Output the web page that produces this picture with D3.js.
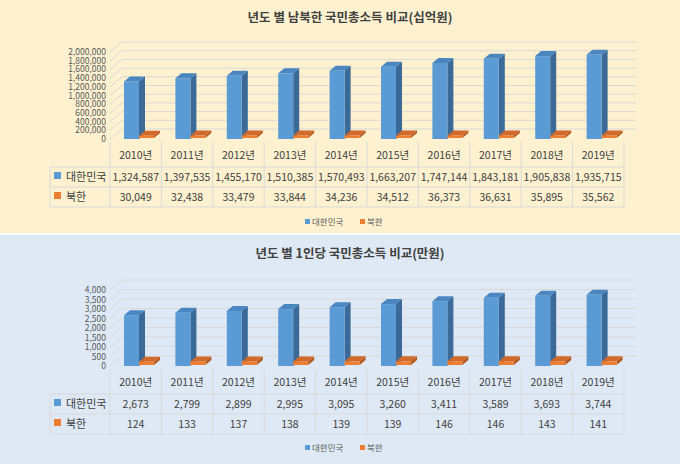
<!DOCTYPE html>
<html><head><meta charset="utf-8">
<script src="https://cdn.jsdelivr.net/npm/d3@7"></script>
<style>body{margin:0;font-family:"Noto Sans CJK KR","Noto Sans",sans-serif;}svg text{font-family:"Noto Sans CJK KR","Noto Sans",sans-serif;}</style>
</head><body><svg id="c" width="680" height="464"></svg>
<script>
var years = ['2010년','2011년','2012년','2013년','2014년','2015년','2016년','2017년','2018년','2019년'];
var seriesNames = ['대한민국','북한'];
var gniSouth = [1324587,1397535,1455170,1510385,1570493,1663207,1747144,1843181,1905838,1935715];
var gniNorth = [30049,32438,33479,33844,34236,34512,36373,36631,35895,35562];
var perSouth = [2673,2799,2899,2995,3095,3260,3411,3589,3693,3744];
var perNorth = [124,133,137,138,139,139,146,146,143,141];
var ticksTop = d3.range(0, 2000001, 200000);
var ticksBot = d3.range(0, 4001, 500);

var svg = d3.select('#c');
var colors = {front:['#5b9bd5','#ed7d31'], side:['#3b6a98','#b35a1f'], top:['#4a86c0','#d0692a']};

function panel(o) {
  var g = svg.append('g').attr('transform', 'translate(0,' + o.y0 + ')');
  g.append('rect').attr('width', 680).attr('height', o.h).attr('fill', o.bg);
  g.append('text').attr('x', 350).attr('y', o.titleY).attr('text-anchor', 'middle')
    .attr('font-size', 12.5).attr('font-weight', 'bold').attr('fill', '#404040').text(o.title);

  var x = d3.scaleBand().domain(years).range([110, 624]);
  var y = d3.scaleLinear().domain([0, o.max]).range([o.base, o.top]);
  var wx = 12, wy = -10;

  o.ticks.forEach(function(t) {
    g.append('path').attr('fill', 'none').attr('stroke', '#d9d9d9')
      .attr('d', 'M' + 110 + ',' + y(t) + 'L' + (110 + wx) + ',' + (y(t) + wy) + 'L' + (624 + wx) + ',' + (y(t) + wy));
    g.append('text').attr('x', 106).attr('y', y(t) + 3).attr('text-anchor', 'end')
      .attr('font-size', 8.5).attr('fill', '#595959').text(d3.format(',')(t));
  });

  var bw = 15, dx = 6, dy = -5;
  [o.s, o.n].forEach(function(vals, si) {
    g.selectAll('.b' + si).data(vals).enter().append('g').each(function(v, i) {
      var x0 = x(years[i]) + 14 + si * 15, yy = si ? y(v) - 2 : y(v), yb = si ? o.base - 1 : o.base;
      if (si) yy = Math.min(yy, yb - 1);
      var b = d3.select(this);
      b.append('path').attr('fill', colors.side[si])
        .attr('d', 'M' + (x0 + bw) + ',' + yb + 'L' + (x0 + bw + dx) + ',' + (yb + dy) + 'L' + (x0 + bw + dx) + ',' + (yy + dy) + 'L' + (x0 + bw) + ',' + yy + 'Z');
      b.append('path').attr('fill', colors.top[si])
        .attr('d', 'M' + x0 + ',' + yy + 'L' + (x0 + dx) + ',' + (yy + dy) + 'L' + (x0 + bw + dx) + ',' + (yy + dy) + 'L' + (x0 + bw) + ',' + yy + 'Z');
      b.append('rect').attr('x', x0).attr('y', yy).attr('width', bw).attr('height', yb - yy).attr('fill', colors.front[si]);
    });
  });

  // table
  var t0 = o.base + 3, rh = [25, 20, 20];
  var ys = [t0, t0 + rh[0], t0 + rh[0] + rh[1], t0 + rh[0] + rh[1] + rh[2]];
  var lc = '#d9d9d9';
  g.append('line').attr('x1', 50).attr('x2', 624).attr('y1', ys[1]).attr('y2', ys[1]).attr('stroke', lc);
  g.append('line').attr('x1', 50).attr('x2', 624).attr('y1', ys[2]).attr('y2', ys[2]).attr('stroke', lc);
  g.append('line').attr('x1', 50).attr('x2', 624).attr('y1', ys[3]).attr('y2', ys[3]).attr('stroke', lc);
  g.append('line').attr('x1', 50).attr('x2', 50).attr('y1', ys[1]).attr('y2', ys[3]).attr('stroke', lc);
  years.concat(['end']).forEach(function(yr, i) {
    var xx = i < years.length ? x(yr) : 624;
    g.append('line').attr('x1', xx).attr('x2', xx).attr('y1', t0).attr('y2', ys[3]).attr('stroke', lc);
  });
  years.forEach(function(yr, i) {
    var cx = x(yr) + x.bandwidth() / 2;
    g.append('text').attr('x', cx).attr('y', ys[0] + 17).attr('text-anchor', 'middle').attr('font-size', 10.5).attr('fill', '#404040').text(yr);
    g.append('text').attr('x', cx).attr('y', ys[1] + 14).attr('text-anchor', 'middle').attr('font-size', 10.5).attr('fill', '#404040').text(d3.format(',')(o.s[i]));
    g.append('text').attr('x', cx).attr('y', ys[2] + 14).attr('text-anchor', 'middle').attr('font-size', 10.5).attr('fill', '#404040').text(d3.format(',')(o.n[i]));
  });
  seriesNames.forEach(function(nm, si) {
    g.append('rect').attr('x', 54).attr('y', ys[1 + si] + 5).attr('width', 7).attr('height', 7).attr('fill', colors.front[si]);
    g.append('text').attr('x', 66).attr('y', ys[1 + si] + 14).attr('font-size', 11).attr('fill', '#404040').text(nm);
  });

  // legend
  var lx = [305, 360];
  seriesNames.forEach(function(nm, si) {
    g.append('rect').attr('x', lx[si]).attr('y', o.legY - 6).attr('width', 5).attr('height', 5).attr('fill', colors.front[si]);
    g.append('text').attr('x', lx[si] + 7).attr('y', o.legY).attr('font-size', 8.5).attr('fill', '#595959').text(nm);
  });
}

panel({y0: 0, h: 233, bg: '#fdf1d0', title: '년도 별 남북한 국민총소득 비교(십억원)', titleY: 22,
  max: 2000000, base: 139, top: 52, ticks: ticksTop, s: gniSouth, n: gniNorth, legY: 225});
panel({y0: 235, h: 229, bg: '#dfe9f5', title: '년도 별 1인당 국민총소득 비교(만원)', titleY: 23,
  max: 4000, base: 131, top: 55, ticks: ticksBot, s: perSouth, n: perNorth, legY: 216});
</script></body></html>
